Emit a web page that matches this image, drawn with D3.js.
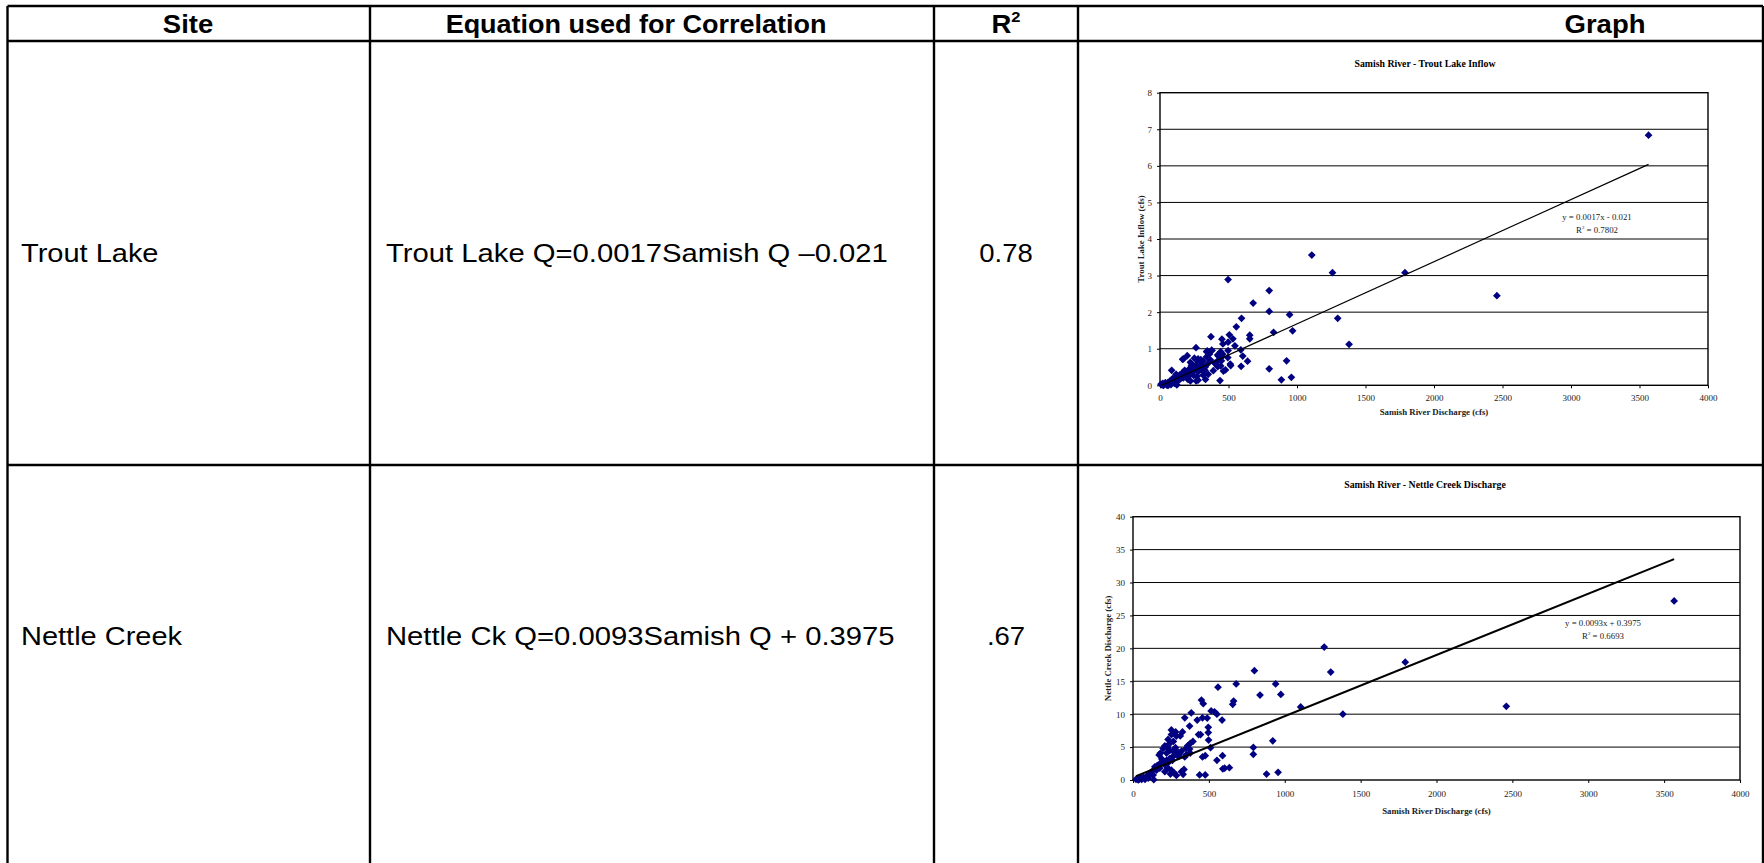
<!DOCTYPE html>
<html><head><meta charset="utf-8">
<script src="https://cdn.jsdelivr.net/npm/d3@7"></script>
<style>
html,body{margin:0;padding:0;background:#fff;}
svg{display:block;}
</style></head>
<body>
<svg id="page" width="1764" height="863"></svg>
<script>
// ---------------- DATA ----------------
const headers = ["Site", "Equation used for Correlation", "R", "Graph"];
const sites = ["Trout Lake", "Nettle Creek"];
const equations = ["Trout Lake Q=0.0017Samish Q \u20130.021", "Nettle Ck Q=0.0093Samish Q + 0.3975"];
const r2Labels = ["0.78", ".67"];
const chartTitles = ["Samish River - Trout Lake Inflow", "Samish River - Nettle Creek Discharge"];
const xAxisTitles = ["Samish River Discharge (cfs)", "Samish River Discharge (cfs)"];
const yAxisTitles = ["Trout Lake  Inflow (cfs)", "Nettle  Creek Discharge (cfs)"];
const xTicks = [0, 500, 1000, 1500, 2000, 2500, 3000, 3500, 4000];
const troutYTicks = [0, 1, 2, 3, 4, 5, 6, 7, 8];
const nettleYTicks = [0, 5, 10, 15, 20, 25, 30, 35, 40];
const slopes = [0.0017, 0.0093];
const intercepts = [-0.021, 0.3975];
const eqLabels = ["y = 0.0017x - 0.021", "y = 0.0093x + 0.3975"];
const r2Values = ["0.7802", "0.6693"];

const troutPoints = [
 [3566,6.84],[2459,2.45],[1788,3.08],[1259,3.08],[1108,3.56],[497,2.89],[797,2.59],[797,2.02],[680,2.25],[1297,1.83],
 [1380,1.12],[946,1.93],[968,1.49],[829,1.45],[924,0.67],[959,0.22],[886,0.15],[797,0.45],
 [595,1.83],[557,1.60],[506,1.38],[532,1.27],[547,1.08],[655,1.37],[655,1.27],[604,0.80],[639,0.66],[592,0.52],[590,0.97],
 [516,0.54],[513,0.58],[497,1.18],[452,1.26],[459,1.13],[372,1.33],[377,0.96],[345,0.94],[263,1.03],[199,0.81],[171,0.72],
 [85,0.41],[438,0.13],[478,0.42],[463,0.39],[443,0.53],[497,0.95],[495,0.76],[332,0.16],[278,0.14],[264,0.12],[402,0.60],
 [452,0.78],[421,0.83],[443,0.92],[458,0.85],[426,0.80],[448,0.67],[419,0.66],[379,0.95],[340,0.92],[369,0.69],[352,0.60],[328,0.41],
 [165,0.71],[251,0.74],[278,0.72],[298,0.70],[315,0.67],[222,0.63],[241,0.54],[268,0.58],[291,0.53],[217,0.46],[180,0.41],
 [192,0.33],[163,0.34],[234,0.36],[303,0.42],[254,0.43],[278,0.37],[204,0.16],[222,0.12],[131,0.23],[94,0.19],[113,0.16],
 [76,0.13],[39,0.07],[20,0.05],[7,0.03],[59,0.08],[123,0.01],[94,0.08],[69,0.05],[143,0.28],[118,0.30],[340,0.78],[360,0.85],
 [401,0.60],[421,0.51],[389,0.40],[352,0.30],[315,0.28],[246,0.27],[271,0.25],[30,0.02],[45,0.04],[52,0.0],[15,0.01],[100,0.12],
 [150,0.18],[170,0.2],[210,0.25],[240,0.45],[260,0.5],[285,0.45],[310,0.55],[330,0.5],[300,0.62],[280,0.65],[230,0.55],[200,0.38],
 [185,0.3],[160,0.22],[140,0.15],[120,0.1],[105,0.05],[80,0.02],[60,0.0],[25,0.0]
];

const nettlePoints = [
 [3566,27.2],[2460,11.2],[1794,17.9],[1260,20.2],[1303,16.4],[1383,10.0],[1105,11.1],[974,13.0],[940,14.6],[921,5.96],
 [956,1.16],[880,0.91],[837,12.9],[800,16.6],[793,4.95],[793,3.9],[680,14.6],[560,14.1],[663,12.0],[657,11.5],
 [587,9.1],[590,3.7],[553,3.0],[592,1.7],[604,1.8],[635,1.87],[511,4.9],[498,6.06],[496,7.2],[496,8.0],[537,10.35],[515,10.5],
 [553,10.0],[489,9.4],[458,9.45],[476,3.7],[476,0.76],[439,0.76],[458,3.5],[445,6.9],[432,6.9],[451,12.15],[463,11.6],[373,8.2],
 [384,10.2],[341,9.45],[423,9.1],[395,5.86],[377,5.56],[377,4.1],[354,3.9],[373,4.7],[341,3.5],[336,1.6],[319,1.26],[330,0.86],
 [326,7.3],[311,6.7],[286,6.67],[266,5.86],[253,7.6],[253,6.9],[281,7.3],[231,6.16],[210,5.2],[199,4.8],[181,4.1],[172,3.8],
 [221,4.1],[243,4.5],[264,4.4],[297,4.2],[308,4.0],[286,3.8],[264,3.6],[243,3.3],[221,3.0],[199,2.8],[177,2.5],[210,2.3],
 [177,1.8],[210,1.26],[231,1.8],[253,1.5],[271,1.1],[286,0.7],[247,0.9],[144,2.0],[155,1.5],[129,1.4],[133,0.76],[111,1.0],
 [90,0.6],[68,0.4],[46,0.2],[137,0.05],[79,0.1],[57,0.1],[100,0.3],[20,0.1],[30,0.2],[40,0.15],[50,0.3],[35,0.0],[60,0.25],
 [85,0.35],[120,0.9],[160,2.2],[190,3.2],[230,2.6],[260,3.0],[300,3.6],[320,4.4],[350,4.8],[360,5.2],[280,4.9],[240,5.5],[225,5.0]
];

// ---------------- LAYOUT ----------------
const svg = d3.select("#page");
svg.append("rect").attr("width",1764).attr("height",863).attr("fill","#fff");

const colX = [7.5, 370, 934, 1078, 1763];
const rowY = [6, 41, 465, 900];
const headerCX = [188, 636, 1006, 1605];
const headerSX = [1.1, 1.08, 1.1, 1.1];
const rowTextY = [253, 636];
const tableFont = "'Liberation Sans', Arial, sans-serif";
const serif = "'Liberation Serif', 'Times New Roman', serif";

function stretched(parent, x, y, sx) {
  return parent.append("text").attr("transform", `translate(${x},${y}) scale(${sx},1)`).attr("dy", "0.36em");
}

// header text
const hdr = svg.append("g").attr("font-family", tableFont).attr("font-weight", "bold")
  .attr("font-size", 25).attr("text-anchor", "middle").attr("fill", "#000");
headers.forEach((h, i) => {
  const t = stretched(hdr, headerCX[i], 24, headerSX[i]);
  if (h === "R") {
    t.append("tspan").text("R");
    t.append("tspan").attr("font-size", 15).attr("dy", "-0.75em").text("2");
  } else t.text(h);
});

// body rows
const body = svg.append("g").attr("font-family", tableFont).attr("font-size", 25).attr("fill", "#000");
sites.forEach((s, i) => {
  stretched(body, 21, rowTextY[i], 1.16).text(s);
  stretched(body, 386, rowTextY[i], 1.17).text(equations[i]);
  stretched(body, (colX[2] + colX[3]) / 2, rowTextY[i], 1.1).attr("text-anchor", "middle").text(r2Labels[i]);
});

// table lines
const grid = svg.append("g").attr("stroke", "#000").attr("stroke-width", 2.4);
rowY.slice(0,3).forEach(y => grid.append("line").attr("x1", colX[0]).attr("x2", colX[4]).attr("y1", y).attr("y2", y));
colX.forEach(x => grid.append("line").attr("x1", x).attr("x2", x).attr("y1", rowY[0]).attr("y2", rowY[3]));

// ---------------- CHARTS ----------------
const diamond = { draw(ctx, size) { const r = Math.sqrt(size / 2); ctx.moveTo(0,-r); ctx.lineTo(r,0); ctx.lineTo(0,r); ctx.lineTo(-r,0); ctx.closePath(); } };

const charts = [
  { pts: troutPoints, yTicks: troutYTicks, left: 1160, right: 1708, top: 92.7, bottom: 385.3,
    titleY: 64, xLabPad: 6, xTitleY: 411.5, yTitleX: 1141, eqX: 1597, eqY: 217, lineW: 1.2 },
  { pts: nettlePoints, yTicks: nettleYTicks, left: 1133, right: 1740, top: 516.7, bottom: 780,
    titleY: 485, xLabPad: 8, xTitleY: 810.5, yTitleX: 1107.5, eqX: 1603, eqY: 623, lineW: 2 }
];

charts.forEach((c, k) => {
  const g = svg.append("g");
  const x = d3.scaleLinear().domain([xTicks[0], xTicks[xTicks.length-1]]).range([c.left, c.right]);
  const y = d3.scaleLinear().domain([c.yTicks[0], c.yTicks[c.yTicks.length-1]]).range([c.bottom, c.top]);

  // gridlines
  g.append("g").selectAll("line").data(c.yTicks.slice(1, -1)).join("line")
    .attr("x1", c.left).attr("x2", c.right).attr("y1", d => y(d)).attr("y2", d => y(d))
    .attr("stroke", "#000").attr("stroke-width", 1);

  // axes
  const xa = g.append("g").attr("transform", `translate(0,${c.bottom})`)
    .call(d3.axisBottom(x).tickValues(xTicks).tickFormat(d3.format("d")).tickSize(3).tickSizeOuter(0).tickPadding(c.xLabPad));
  const ya = g.append("g").attr("transform", `translate(${c.left},0)`)
    .call(d3.axisLeft(y).tickValues(c.yTicks).tickFormat(d3.format("d")).tickSize(3).tickSizeOuter(0).tickPadding(5));
  [xa, ya].forEach(a => {
    a.select(".domain").remove();
    a.selectAll("text").attr("font-family", serif).attr("font-size", 9).attr("fill", "#222");
    a.selectAll("line").attr("stroke", "#000");
  });

  // border
  g.append("rect").attr("x", c.left).attr("y", c.top).attr("width", c.right - c.left).attr("height", c.bottom - c.top)
    .attr("fill", "none").attr("stroke", "#000").attr("stroke-width", 1.4);

  // points
  g.append("g").selectAll("path").data(c.pts).join("path")
    .attr("d", d3.symbol().type(diamond).size(30))
    .attr("transform", d => `translate(${x(d[0])},${y(d[1])})`)
    .attr("fill", "#000080");

  // trendline
  const xs = d3.extent(c.pts, d => d[0]);
  const line = d3.line().x(d => x(d)).y(d => y(slopes[k] * d + intercepts[k]));
  g.append("path").attr("d", line([Math.max(xs[0], (0 - intercepts[k]) / slopes[k]), xs[1]]))
    .attr("fill", "none").attr("stroke", "#000").attr("stroke-width", c.lineW);

  // titles
  g.append("text").attr("x", 1425).attr("y", c.titleY).attr("dy", "0.35em").attr("text-anchor", "middle")
    .attr("font-family", serif).attr("font-weight", "bold").attr("font-size", 9.8).text(chartTitles[k]);
  g.append("text").attr("x", (c.left + c.right) / 2).attr("y", c.xTitleY).attr("dy", "0.35em").attr("text-anchor", "middle")
    .attr("font-family", serif).attr("font-weight", "bold").attr("font-size", 8.8).attr("fill", "#222").text(xAxisTitles[k]);
  g.append("text").attr("transform", `translate(${c.yTitleX},${(c.top + c.bottom) / 2}) rotate(-90)`)
    .attr("dy", "0.35em").attr("text-anchor", "middle")
    .attr("font-family", serif).attr("font-weight", "bold").attr("font-size", 8.8).attr("fill", "#222").text(yAxisTitles[k]);

  // equation label
  const eq = g.append("g").attr("font-family", serif).attr("font-size", 8.8).attr("fill", "#222").attr("text-anchor", "middle");
  eq.append("text").attr("x", c.eqX).attr("y", c.eqY).attr("dy", "0.35em").text(eqLabels[k]);
  const r2 = eq.append("text").attr("x", c.eqX).attr("y", c.eqY + 13).attr("dy", "0.35em");
  r2.append("tspan").text("R");
  r2.append("tspan").attr("font-size", 5).attr("dy", "-0.9em").text("2");
  r2.append("tspan").attr("dy", "0.55em").text(" = " + r2Values[k]);
});
</script>
</body></html>
